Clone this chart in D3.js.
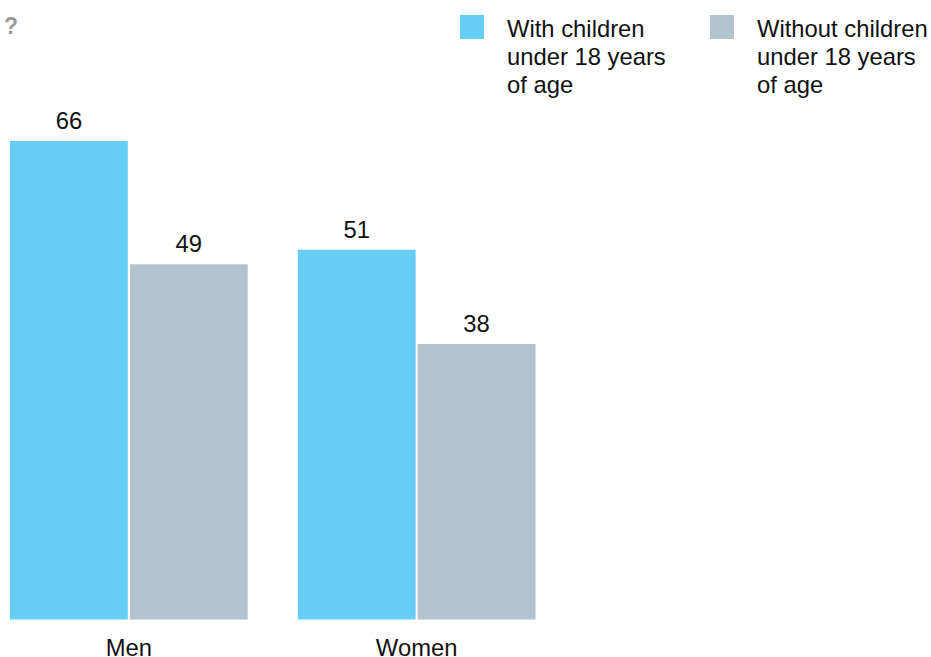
<!DOCTYPE html>
<html>
<head>
<meta charset="utf-8">
<script src="https://cdn.jsdelivr.net/npm/d3@7"></script>
<style>
  html, body { margin: 0; padding: 0; background: #fff; }
  svg { display: block; font-family: "Liberation Sans", Arial, sans-serif; }
</style>
</head>
<body>
<svg id="chart" width="931" height="657"></svg>
<script>
const categories = ["Men", "Women"];
const seriesNames = ["With children under 18 years of age", "Without children under 18 years of age"];
const legendLines = [["With children", "under 18 years", "of age"], ["Without children", "under 18 years", "of age"]];
const withChildren = [66, 51];
const withoutChildren = [49, 38];
const colors = ["#66CEF5", "#B1C3CD"];

const svg = d3.select("#chart");
const fs = 23.8;

const x0 = d3.scaleBand().domain(categories).range([10, 535.5]).paddingInner(0.174).paddingOuter(0);
const x1 = d3.scaleBand().domain([0, 1]).range([0, x0.bandwidth()]).paddingInner(0.017);
const y = d3.scaleLinear().domain([0, 66]).range([619.5, 141]);

const rows = categories.map((c, i) => ({ cat: c, vals: [withChildren[i], withoutChildren[i]] }));

const g = svg.append("g");
const groups = g.selectAll("g.grp").data(rows).join("g")
  .attr("transform", d => `translate(${x0(d.cat)},0)`);

groups.selectAll("rect").data(d => d.vals.map((v, k) => ({ v, k }))).join("rect")
  .attr("x", d => x1(d.k))
  .attr("y", d => y(d.v))
  .attr("width", x1.bandwidth())
  .attr("height", d => y(0) - y(d.v))
  .attr("fill", d => colors[d.k]);

groups.selectAll("text.val").data(d => d.vals.map((v, k) => ({ v, k }))).join("text")
  .attr("class", "val")
  .attr("x", d => x1(d.k) + x1.bandwidth() / 2)
  .attr("y", d => y(d.v) - 12)
  .attr("text-anchor", "middle")
  .attr("font-size", fs)
  .attr("fill", "#111")
  .text(d => d.v);

// category axis labels
const xAxis = d3.axisBottom(x0).tickSize(0).tickPadding(0);
const ax = svg.append("g").attr("transform", "translate(0,619)").call(xAxis);
ax.select(".domain").remove();
ax.selectAll("text")
  .attr("font-size", fs)
  .attr("font-family", "Liberation Sans, Arial, sans-serif")
  .attr("fill", "#111")
  .attr("dy", null)
  .attr("y", 36.5);

// title remnant
svg.append("text")
  .attr("x", 4).attr("y", 34)
  .attr("font-size", 23)
  .attr("font-weight", "bold")
  .attr("fill", "#9a9a9a")
  .text("?");

// legend
const legendX = [460, 710];
seriesNames.forEach((s, i) => {
  const lg = svg.append("g").attr("transform", `translate(${legendX[i]},15)`);
  lg.append("rect").attr("width", 24).attr("height", 24).attr("fill", colors[i]);
  const t = lg.append("text").attr("x", 47).attr("y", 22).attr("font-size", fs).attr("fill", "#111");
  legendLines[i].forEach((line, j) => {
    t.append("tspan").attr("x", 47).attr("y", 22 + j * 28).text(line);
  });
});
</script>
</body>
</html>
